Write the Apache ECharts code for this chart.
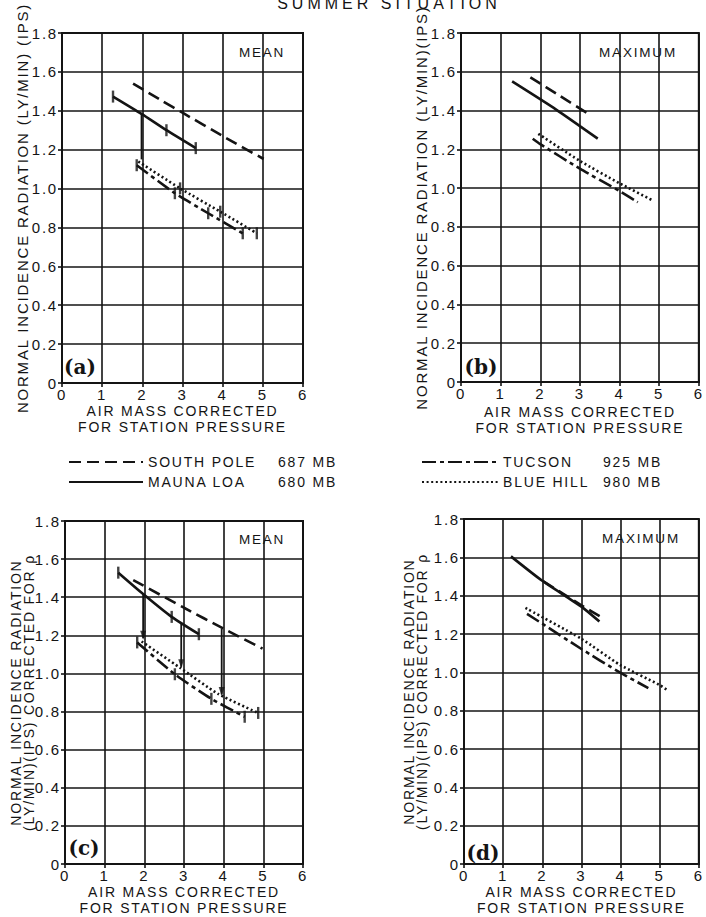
<!DOCTYPE html>
<html><head><meta charset="utf-8">
<script src="https://cdn.jsdelivr.net/npm/echarts@6/dist/echarts.min.js"></script>
<style>
html,body{margin:0;padding:0;background:#fff}
#c{width:706px;height:917px}
#c svg text{letter-spacing:1.8px}
</style></head><body><div id="c"></div>
<script>
// ---------- data ----------
const stationNames = ['SOUTH POLE', 'MAUNA LOA', 'TUCSON', 'BLUE HILL'];
const stationPressures = ['687 MB', '680 MB', '925 MB', '980 MB'];
const xTicks = [0, 1, 2, 3, 4, 5, 6];
const yTicks = [0, 0.2, 0.4, 0.6, 0.8, 1.0, 1.2, 1.4, 1.6, 1.8];
const panelLetters = ['(a)', '(b)', '(c)', '(d)'];
const panelStats = ['MEAN', 'MAXIMUM', 'MEAN', 'MAXIMUM'];
const xTitle = 'AIR MASS CORRECTED\nFOR STATION PRESSURE';
const yTitles = [
  'NORMAL INCIDENCE RADIATION (LY/MIN) (IPS)',
  'NORMAL INCIDENCE RADIATION (LY/MIN)(IPS)',
  'NORMAL INCIDENCE RADIATION\n(LY/MIN)(IPS) CORRECTED FOR ρ',
  'NORMAL INCIDENCE RADIATION\n(LY/MIN)(IPS) CORRECTED FOR ρ'
];
const chartTitle = 'SUMMER SITUATION';

// (a) mean
const aSouthPole = [[1.77, 1.54], [2.5, 1.45], [3, 1.39], [4, 1.27], [5.02, 1.152]];
const aMaunaLoa = [[1.27, 1.473], [1.98, 1.384], [2.6, 1.30], [3.33, 1.208]];
const aTucson = [[1.86, 1.12], [2.81, 0.976], [3.64, 0.873], [4.5, 0.77]];
const aBlueHill = [[1.9, 1.139], [2.94, 1.001], [3.94, 0.881], [4.85, 0.77]];
const aCaps = [[1.27, 1.473], [2.6, 1.30], [3.33, 1.208], [1.86, 1.12], [2.81, 0.976], [3.64, 0.873], [4.5, 0.77], [2.94, 1.001], [3.94, 0.881], [4.85, 0.77]];
const aDrops = [[1.98, 1.384, 1.15]];

// (b) maximum
const bSouthPole = [[1.75, 1.571], [2.5, 1.475], [3.24, 1.38]];
const bMaunaLoa = [[1.29, 1.55], [2.4, 1.405], [3.45, 1.255]];
const bTucson = [[1.81, 1.255], [2, 1.227], [3, 1.10], [4, 0.985], [4.46, 0.927]];
const bBlueHill = [[1.95, 1.28], [3, 1.14], [4, 1.025], [4.85, 0.935]];
const bCaps = [];
const bDrops = [];

// (c) mean corrected for p
const cSouthPole = [[1.72, 1.49], [3, 1.345], [4, 1.235], [4.98, 1.13]];
const cMaunaLoa = [[1.343, 1.529], [1.97, 1.417], [2.69, 1.297], [3.375, 1.206]];
const cTucson = [[1.82, 1.163], [2.77, 0.996], [3.69, 0.867], [4.53, 0.773]];
const cBlueHill = [[1.93, 1.168], [2.9, 1.03], [3.86, 0.893], [4.87, 0.793]];
const cCaps = [[1.343, 1.529], [2.69, 1.297], [3.375, 1.206], [1.82, 1.163], [2.77, 0.996], [3.69, 0.867], [4.53, 0.773], [4.87, 0.793]];
const cDrops = [[1.97, 1.417, 1.185], [2.93, 1.265, 1.035], [3.95, 1.235, 0.89]];

// (d) maximum corrected for p
const dSouthPole = [[2.03, 1.475], [3, 1.35], [3.54, 1.285]];
const dMaunaLoa = [[1.2, 1.605], [1.99, 1.479], [3, 1.343], [3.46, 1.265]];
const dTucson = [[1.61, 1.305], [2, 1.254], [3, 1.122], [3.98, 1.0], [4.71, 0.918]];
const dBlueHill = [[1.57, 1.336], [3, 1.175], [3.98, 1.04], [4.99, 0.935], [5.21, 0.905]];
const dCaps = [];
const dDrops = [];

// ---------- layout / style ----------
const INK = '#141414';
const FONT = 'Liberation Sans';
const lineStyles = {
  'SOUTH POLE': { type: [12, 6] },
  'MAUNA LOA': { type: 'solid' },
  'TUCSON': { type: [14, 4, 4, 4] },
  'BLUE HILL': { type: [2, 2.6] }
};
const panels = [
  { lines: [aSouthPole, aMaunaLoa, aTucson, aBlueHill], caps: aCaps, drops: aDrops, arrows: false },
  { lines: [bSouthPole, bMaunaLoa, bTucson, bBlueHill], caps: bCaps, drops: bDrops, arrows: false },
  { lines: [cSouthPole, cMaunaLoa, cTucson, cBlueHill], caps: cCaps, drops: cDrops, arrows: true },
  { lines: [dSouthPole, dMaunaLoa, dTucson, dBlueHill], caps: dCaps, drops: dDrops, arrows: false }
];
const grids = [
  { left: 62, top: 33, width: 241, height: 350 },
  { left: 461, top: 33, width: 240, height: 349 },
  { left: 65, top: 521, width: 238, height: 349 },
  { left: 464, top: 519, width: 239, height: 350 }
];
const xNameGap = [14, 22, 17, 17];
const yNameGap = [32, 32, 28, 36];
const annot = [
  { stat: [262, 52], letter: [80, 367] },
  { stat: [638, 52], letter: [481, 367] },
  { stat: [262, 539], letter: [84, 848] },
  { stat: [641, 538], letter: [483, 853] }
];

const chart = echarts.init(document.getElementById('c'), null, { renderer: 'svg', width: 706, height: 917 });

const grid = grids.map(g => Object.assign({ show: true, borderColor: INK, borderWidth: 2, backgroundColor: 'transparent' }, g));
const axisCommon = {
  axisLine: { show: true, lineStyle: { color: INK, width: 2 } },
  axisTick: { show: true, length: 4, lineStyle: { color: INK, width: 1.6 } },
  splitLine: { show: true, lineStyle: { color: INK, width: 1.6 } }
};
const xAxis = grids.map((g, i) => Object.assign({
  type: 'value', gridIndex: i, min: xTicks[0], max: xTicks[xTicks.length - 1], interval: 1,
  name: xTitle, nameLocation: 'middle', nameGap: xNameGap[i],
  nameTextStyle: { fontFamily: FONT, fontSize: 14, color: INK, lineHeight: 16 },
  axisLabel: { fontFamily: FONT, fontSize: 15, color: INK, margin: 4 }
}, axisCommon));
const yAxis = grids.map((g, i) => Object.assign({
  type: 'value', gridIndex: i, min: yTicks[0], max: yTicks[yTicks.length - 1], interval: 0.2,
  name: yTitles[i], nameLocation: 'middle', nameGap: yNameGap[i], nameRotate: 90,
  nameTextStyle: { fontFamily: FONT, fontSize: i < 2 ? 15 : 14, color: INK, lineHeight: i < 2 ? 16 : 13 },
  axisLabel: { fontFamily: FONT, fontSize: 15, color: INK, margin: 4, formatter: v => v === 0 ? '0' : v.toFixed(1) }
}, axisCommon));

const series = [];
panels.forEach((p, i) => {
  p.lines.forEach((data, k) => {
    const nm = stationNames[k];
    series.push({
      type: 'line', name: nm, xAxisIndex: i, yAxisIndex: i, data: data,
      symbol: 'none', smooth: 0.2, silent: true, z: 5,
      itemStyle: { color: INK },
      lineStyle: { color: INK, width: 2.6, type: lineStyles[nm].type, cap: 'butt' }
    });
  });
  if (p.caps.length) {
    series.push({
      type: 'scatter', name: 'caps', xAxisIndex: i, yAxisIndex: i, data: p.caps,
      symbol: 'rect', symbolSize: [2.4, 12], silent: true, z: 6,
      itemStyle: { color: INK }
    });
  }
  p.drops.forEach(d => {
    series.push({
      type: 'line', name: 'drop', xAxisIndex: i, yAxisIndex: i,
      data: [[d[0], d[1]], [d[0], d[2]]], symbol: 'none', silent: true, z: 5,
      itemStyle: { color: INK },
      lineStyle: { color: INK, width: 1.8 }
    });
  });
  if (p.arrows && p.drops.length) {
    series.push({
      type: 'scatter', name: 'arrows', xAxisIndex: i, yAxisIndex: i,
      data: p.drops.map(d => [d[0], d[2]]),
      symbol: 'triangle', symbolRotate: 180, symbolSize: [6, 9], symbolOffset: [0, -3],
      silent: true, z: 6, itemStyle: { color: INK }
    });
  }
});

const legendFormatter = name => '{n|' + name + '}{m|' + stationPressures[stationNames.indexOf(name)] + '}';
const legend = [
  { data: [stationNames[0], stationNames[1]], left: 68, top: 455, nameW: 130, w: 74 },
  { data: [stationNames[2], stationNames[3]], left: 421, top: 455, nameW: 100, w: 76 }
].map(l => ({
  data: l.data, left: l.left, top: l.top, orient: 'vertical', padding: 0,
  itemWidth: l.w, itemHeight: 14, itemGap: 6, selectedMode: false,
  itemStyle: { opacity: 0, borderWidth: 0 },
  formatter: legendFormatter,
  textStyle: {
    color: INK, fontFamily: FONT, fontSize: 14,
    rich: { n: { width: l.nameW, fontFamily: FONT, fontSize: 14, color: INK }, m: { fontFamily: FONT, fontSize: 14, color: INK } }
  }
}));

const graphic = [{
  type: 'text', x: 389, y: 11,
  style: { text: chartTitle, font: '16px "Liberation Sans"', fill: INK, align: 'center', textAlign: 'center', verticalAlign: 'bottom', textVerticalAlign: 'bottom' }
}];
annot.forEach((a, i) => {
  graphic.push({
    type: 'text', x: a.stat[0], y: a.stat[1],
    style: { text: panelStats[i], font: '13.5px "Liberation Sans"', fill: INK, align: 'center', textAlign: 'center', verticalAlign: 'middle', textVerticalAlign: 'middle' }
  });
  graphic.push({
    type: 'text', x: a.letter[0], y: a.letter[1],
    style: { text: panelLetters[i], font: 'bold 20px "DejaVu Serif"', fill: INK, align: 'center', textAlign: 'center', verticalAlign: 'middle', textVerticalAlign: 'middle' }
  });
});

chart.setOption({
  animation: false,
  backgroundColor: '#fff',
  grid, xAxis, yAxis, series, legend, graphic
});

function tweak() {
  document.querySelectorAll('#c svg text').forEach(t => {
    if (t.textContent === chartTitle) t.style.letterSpacing = '4px';
    if (panelLetters.indexOf(t.textContent) >= 0) t.style.letterSpacing = '0px';
  });
}
chart.on('finished', tweak);
setTimeout(tweak, 0);
</script>
</body></html>
